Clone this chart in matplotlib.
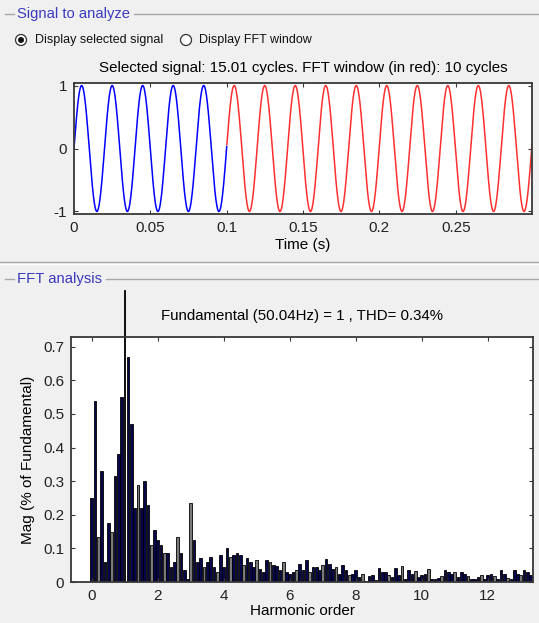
import numpy as np
import matplotlib
matplotlib.use('Agg')
import matplotlib.pyplot as plt
from matplotlib.patches import Circle

plt.rcParams['font.family'] = ['Liberation Sans', 'DejaVu Sans']
plt.rcParams['axes.unicode_minus'] = False

# ---------------- data ----------------
f0 = 50.04            # fundamental frequency (Hz)
cycles_total = 15.01  # selected signal length (cycles)
cycles_fft = 10       # FFT window (cycles)
amplitude = 1.0
time_ticks = [0, 0.05, 0.1, 0.15, 0.2, 0.25]
time_ticklabels = ['0', '0.05', '0.1', '0.15', '0.2', '0.25']
signal_yticks = [-1, 0, 1]

# FFT magnitude (% of fundamental) for harmonic orders 0.0, 0.1, ... 13.3
harm_mag = [
    0.25, 0.54, 0.135, 0.33, 0.06, 0.175, 0.15, 0.315, 0.38, 0.55,   # 0.0-0.9
    0.0, 0.67, 0.47, 0.22, 0.29, 0.22, 0.30, 0.23, 0.11, 0.155,      # 1.0-1.9
    0.125, 0.11, 0.085, 0.085, 0.045, 0.06, 0.135, 0.085, 0.035, 0.01,  # 2.0-2.9
    0.235, 0.125, 0.06, 0.07, 0.045, 0.06, 0.075, 0.045, 0.03, 0.08,  # 3.0-3.9
    0.045, 0.10, 0.075, 0.08, 0.085, 0.08, 0.05, 0.07, 0.06, 0.045,   # 4.0-4.9
    0.065, 0.04, 0.03, 0.065, 0.06, 0.05, 0.047, 0.037, 0.06, 0.03,   # 5.0-5.9
    0.023, 0.03, 0.035, 0.055, 0.035, 0.065, 0.03, 0.045, 0.045, 0.035,  # 6.0-6.9
    0.05, 0.067, 0.055, 0.04, 0.045, 0.025, 0.05, 0.035, 0.02, 0.025,  # 7.0-7.9
    0.037, 0.015, 0.025, 0.003, 0.018, 0.02, 0.005, 0.042, 0.03, 0.03,  # 8.0-8.9
    0.02, 0.015, 0.042, 0.02, 0.048, 0.01, 0.035, 0.025, 0.033, 0.015,  # 9.0-9.9
    0.02, 0.025, 0.038, 0.01, 0.01, 0.013, 0.018, 0.035, 0.03, 0.025,  # 10.0-10.9
    0.03, 0.015, 0.03, 0.023, 0.018, 0.01, 0.01, 0.015, 0.02, 0.01,    # 11.0-11.9
    0.02, 0.025, 0.018, 0.01, 0.035, 0.025, 0.013, 0.01, 0.035, 0.025,  # 12.0-12.9
    0.02, 0.035, 0.03, 0.02,                                           # 13.0-13.3
]
harm_order = np.round(np.arange(len(harm_mag)) * 0.1, 1)
fund_order = 1.0
fund_mag_drawn = 0.87
harm_xticks = [0, 2, 4, 6, 8, 10, 12]
mag_yticks = [0, 0.1, 0.2, 0.3, 0.4, 0.5, 0.6, 0.7]
mag_yticklabels = ['0', '0.1', '0.2', '0.3', '0.4', '0.5', '0.6', '0.7']

# ---------------- figure ----------------
W, H = 539, 623
fig = plt.figure(figsize=(W / 100, H / 100), dpi=100, facecolor='#f0f0f0')

# overlay for GUI decorations (pixel coordinates)
ov = fig.add_axes([0, 0, 1, 1], zorder=-1)
ov.set_xlim(0, W)
ov.set_ylim(H, 0)
ov.axis('off')
ov.patch.set_alpha(0)

gcol = '#a8a8a8'
blue_lbl = '#3a3ac0'
# group box: Signal to analyze
ov.plot([5, 14], [14, 14], color=gcol, lw=1)
ov.plot([134, W], [14, 14], color=gcol, lw=1)
ov.text(17, 14, 'Signal to analyze', color=blue_lbl, fontsize=10.6, va='center', ha='left')
# separator line
ov.plot([0, W], [262, 262], color=gcol, lw=1)
ov.plot([0, W], [264, 264], color='#ffffff', lw=1)
# group box: FFT analysis
ov.plot([5, 14], [279, 279], color=gcol, lw=1)
ov.plot([106, W], [279, 279], color=gcol, lw=1)
ov.text(17, 279, 'FFT analysis', color=blue_lbl, fontsize=10.7, va='center', ha='left')

# radio buttons
ov.add_patch(Circle((21, 40), 5.5, facecolor='white', edgecolor='#333333', lw=0.9))
ov.add_patch(Circle((21, 40), 3.0, facecolor='#111111', edgecolor='none'))
ov.text(35, 40, 'Display selected signal', fontsize=9, va='center', ha='left', color='#111111')
ov.add_patch(Circle((186, 40), 5.5, facecolor='white', edgecolor='#333333', lw=0.9))
ov.text(199, 40, 'Display FFT window', fontsize=9, va='center', ha='left', color='#111111')

# ---------------- top axes: signal ----------------
def px_axes(l, t, r, b):
    return [l / W, 1 - b / H, (r - l) / W, (b - t) / H]

ax1 = fig.add_axes(px_axes(74, 83, 532, 214))
t_end = cycles_total / f0
t_split = (cycles_total - cycles_fft) / f0
t = np.linspace(0, t_end, 3000)
sig = amplitude * np.sin(2 * np.pi * f0 * t)
m1 = t <= t_split
ax1.plot(t[m1], sig[m1], color='#0000ff', lw=1.1)
ax1.plot(t[~m1], sig[~m1], color='#ff3030', lw=1.1)
ax1.set_xlim(0, t_end)
ax1.set_ylim(-1.04, 1.04)
ax1.set_xticks(time_ticks)
ax1.set_xticklabels(time_ticklabels)
ax1.set_yticks(signal_yticks)
ax1.set_xlabel('Time (s)', fontsize=11, labelpad=2)
ax1.set_title('Selected signal: 15.01 cycles. FFT window (in red): 10 cycles',
              fontsize=10.9, pad=8)

# ---------------- bottom axes: FFT ----------------
ax2 = fig.add_axes(px_axes(71, 337, 533, 582))
colors = ['#7a7a7a' if i % 4 == 2 else '#06064a' for i in range(len(harm_mag))]
ax2.bar(harm_order, harm_mag, width=0.08, color=colors, edgecolor='black', linewidth=0.6)
ax2.bar([fund_order], [fund_mag_drawn], width=0.03, color='black', edgecolor='black',
        linewidth=0.6, clip_on=False)
ax2.set_xlim(-0.63, 13.37)
ax2.set_ylim(0, 0.729)
ax2.set_xticks(harm_xticks)
ax2.set_yticks(mag_yticks)
ax2.set_yticklabels(mag_yticklabels)
ax2.set_xlabel('Harmonic order', fontsize=11, labelpad=1)
ax2.set_ylabel('Mag (% of Fundamental)', fontsize=11, labelpad=6)
ax2.set_title('Fundamental (50.04Hz) = 1 , THD= 0.34%', fontsize=10.8, pad=12)

for ax in (ax1, ax2):
    ax.set_facecolor('white')
    for s in ax.spines.values():
        s.set_color('#383838')
        s.set_linewidth(1.3)
    ax.tick_params(direction='in', length=3, width=0.8, color='#383838',
                   labelsize=11, top=True, right=True, pad=5, labelcolor='#222222')

fig.savefig('out.png', dpi=100, facecolor=fig.get_facecolor())
